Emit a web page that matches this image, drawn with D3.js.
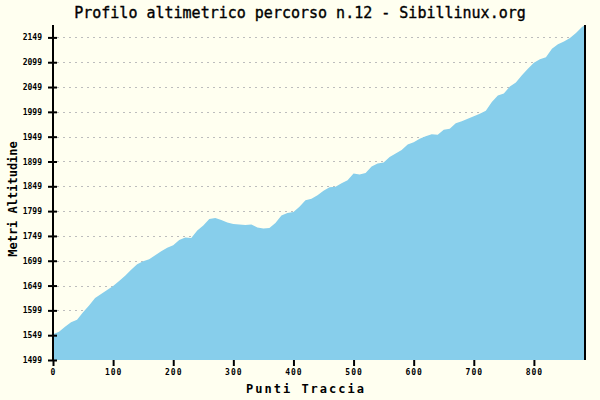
<!DOCTYPE html>
<html>
<head>
<meta charset="utf-8">
<script src="https://cdn.jsdelivr.net/npm/d3@7"></script>
<style>
  html, body { margin: 0; padding: 0; background: #fffff0; }
  svg { display: block; }
  text { font-family: "DejaVu Sans Mono", "Liberation Mono", monospace; }
</style>
</head>
<body>
<svg id="chart" width="600" height="400"></svg>
<script>
const title = "Profilo altimetrico percorso n.12 - Sibillinux.org";
const xTitle = "Punti Traccia";
const yTitle = "Metri Altitudine";

const pointIndex = [0,10,20,30,40,50,60,70,80,90,100,110,120,130,140,150,160,170,180,190,
  200,210,220,230,240,250,260,270,280,290,300,310,320,330,340,350,360,370,380,390,
  400,410,420,430,440,450,460,470,480,490,500,510,520,530,540,550,560,570,580,590,
  600,610,620,630,640,650,660,670,680,690,700,710,720,730,740,750,760,770,780,790,
  800,810,820,830,840,850,860,870,880,884];
const elevation = [1551,1556,1566,1575,1580,1595,1609,1624,1632,1640,1648,1658,1669,1681,1692,1698,1702,1710,1718,1725,
  1730,1741,1746,1745,1760,1770,1783,1785,1781,1776,1773,1772,1771,1772,1766,1764,1765,1775,1790,1795,
  1797,1808,1821,1824,1831,1840,1847,1848,1855,1861,1875,1873,1876,1889,1895,1897,1908,1915,1922,1933,
  1938,1945,1950,1954,1953,1963,1965,1976,1980,1985,1990,1995,2001,2019,2032,2036,2050,2058,2073,2086,
  2098,2105,2109,2126,2135,2141,2148,2158,2170,2173];
const yTicks = [1499,1549,1599,1649,1699,1749,1799,1849,1899,1949,1999,2049,2099,2149];
const xTicks = [0,100,200,300,400,500,600,700,800];

const data = pointIndex.map((p, i) => ({ p, v: elevation[i] }));

const svg = d3.select("#chart");
const mLeft = 53, mRight = 585, mTop = 25, mBottom = 360;

const x = d3.scaleLinear().domain([0, 885]).range([mLeft, mRight]);
const y = d3.scaleLinear().domain([1499, 2174]).range([mBottom, mTop]);

svg.append("rect").attr("width", 600).attr("height", 400).attr("fill", "#fffff0");

// grid
svg.append("g").selectAll("line").data(yTicks.slice(1)).join("line")
  .attr("x1", mLeft + 4).attr("x2", mRight)
  .attr("y1", d => Math.round(y(d)) + 0.5).attr("y2", d => Math.round(y(d)) + 0.5)
  .attr("stroke", "#bdbdbd").attr("stroke-width", 1).attr("stroke-dasharray", "2,4");

// area
const area = d3.area()
  .x(d => x(d.p)).y0(y(1499)).y1(d => y(d.v))
  .curve(d3.curveLinear);
svg.append("path").datum(data).attr("d", area).attr("fill", "#87ceeb");

// y axis
const yAxis = d3.axisLeft(y).tickValues(yTicks).tickSize(0).tickPadding(11).tickFormat(d3.format("d"));
const gy = svg.append("g").attr("transform", `translate(${mLeft},0)`).call(yAxis);
gy.select(".domain").remove();
gy.selectAll(".tick text").attr("font-size", 8).attr("font-weight", "bold")
  .attr("font-family", "DejaVu Sans Mono").attr("fill", "#000");
gy.selectAll(".tick").append("line").attr("x1", -5).attr("x2", 4)
  .attr("stroke", "#000").attr("stroke-width", 2);

// x axis
const xAxis = d3.axisBottom(x).tickValues(xTicks).tickSize(0).tickPadding(9).tickFormat(d3.format("d"));
const gx = svg.append("g").attr("transform", `translate(0,${mBottom})`).call(xAxis);
gx.select(".domain").remove();
gx.selectAll(".tick text").attr("font-size", 8).attr("font-weight", "bold")
  .attr("font-family", "DejaVu Sans Mono").attr("letter-spacing", 1).attr("fill", "#000");
gx.selectAll(".tick").append("line").attr("y1", 0).attr("y2", 6)
  .attr("stroke", "#000").attr("stroke-width", 2);

// axis lines
svg.append("line").attr("x1", mLeft).attr("x2", mLeft).attr("y1", mTop).attr("y2", mBottom)
  .attr("stroke", "#000").attr("stroke-width", 2);
svg.append("line").attr("x1", mRight).attr("x2", mRight).attr("y1", mTop).attr("y2", mBottom)
  .attr("stroke", "#000").attr("stroke-width", 2);

// titles
svg.append("text").attr("x", 300).attr("y", 18).attr("text-anchor", "middle")
  .attr("font-size", 15).attr("fill", "#000").attr("stroke", "#000").attr("stroke-width", 0.35)
  .text(title);
svg.append("text").attr("x", 306).attr("y", 393).attr("text-anchor", "middle")
  .attr("font-size", 12).attr("font-weight", "bold").attr("letter-spacing", 2)
  .attr("fill", "#000").text(xTitle);
svg.append("text").attr("transform", "translate(17,199) rotate(-90)").attr("text-anchor", "middle")
  .attr("font-size", 12).attr("font-weight", "bold").attr("fill", "#000").text(yTitle);
</script>
</body>
</html>
